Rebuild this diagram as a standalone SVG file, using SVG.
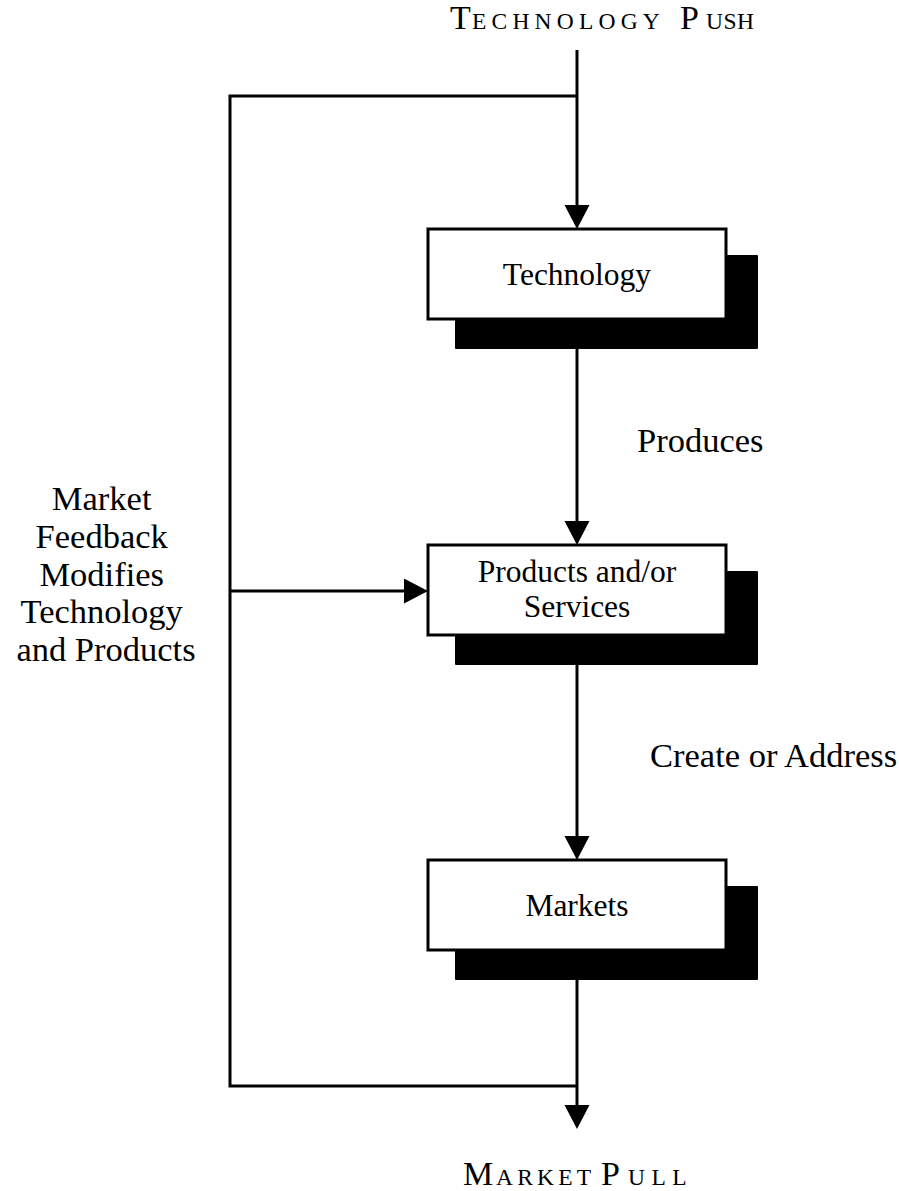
<svg xmlns="http://www.w3.org/2000/svg" width="899" height="1191" viewBox="0 0 899 1191">
  <style>
    .bg { fill: #ffffff; }
    .box { fill: #ffffff; stroke: #000000; stroke-width: 3; }
    .shadow { fill: #000000; stroke: #000000; stroke-width: 2; stroke-linejoin: round; }
    .wire { fill: none; stroke: #000000; stroke-width: 3; }
    .arrow { fill: none; stroke: #000000; stroke-width: 3; marker-end: url(#head); }
    text { font-family: "Liberation Serif", "Times New Roman", serif; fill: #000000; }
    .inbox { font-size: 31.5px; text-anchor: middle; }
    .label { font-size: 34.5px; }
    .side { font-size: 34.5px; text-anchor: middle; }
    .cap { font-size: 34px; }
    .sc { font-size: 23.5px; }
  </style>
  <defs>
    <marker id="head" markerUnits="userSpaceOnUse" markerWidth="26" markerHeight="26" refX="16" refY="12.5" orient="auto">
      <path d="M0,0 L24,12.5 L0,25 Z" fill="#000000"/>
    </marker>
  </defs>

  <rect class="bg" x="0" y="0" width="899" height="1191"/>

  <!-- top and bottom captions, set in small caps -->
  <g id="caption-push">
    <text y="29"><tspan class="cap" x="450">T</tspan><tspan class="sc" x="472" letter-spacing="5.2">ECHNOLOGY</tspan><tspan class="cap" x="680">P</tspan><tspan class="sc" x="706" letter-spacing="0.5">USH</tspan></text>
  </g>
  <g id="caption-pull">
    <text y="1185"><tspan class="cap" x="463">M</tspan><tspan class="sc" x="496" letter-spacing="4.2">ARKET</tspan><tspan class="cap" x="601">P</tspan><tspan class="sc" x="628" letter-spacing="6.5">ULL</tspan></text>
  </g>

  <!-- connectors -->
  <g id="connectors">
    <path class="arrow" d="M577,50 V221"/>
    <path class="wire" d="M577,96 H230 V1086 H577"/>
    <path class="arrow" d="M230,591 H420"/>
    <path class="arrow" d="M577,349 V537"/>
    <path class="arrow" d="M577,664 V852"/>
    <path class="arrow" d="M577,978 V1121"/>
  </g>

  <!-- edge labels -->
  <g id="label-produces">
    <text class="label" x="637" y="452">Produces</text>
  </g>
  <g id="label-create">
    <text class="label" x="650" y="767">Create or Address</text>
  </g>
  <g id="label-feedback">
    <text class="side">
      <tspan x="106" y="510">Market</tspan>
      <tspan x="106" y="548">Feedback</tspan>
      <tspan x="106" y="586">Modifies</tspan>
      <tspan x="106" y="623">Technology</tspan>
      <tspan x="106" y="661">and Products</tspan>
    </text>
  </g>

  <!-- nodes: shadow block, then white box on top -->
  <g id="node-technology">
    <rect class="shadow" x="456" y="256" width="301" height="92"/>
    <rect class="box" x="428" y="229" width="298" height="90"/>
    <text class="inbox" x="577" y="285">Technology</text>
  </g>
  <g id="node-products">
    <rect class="shadow" x="456" y="572" width="301" height="92"/>
    <rect class="box" x="428" y="545" width="298" height="90"/>
    <text class="inbox" x="577" y="582">Products and/or</text>
    <text class="inbox" x="577" y="617">Services</text>
  </g>
  <g id="node-markets">
    <rect class="shadow" x="456" y="887" width="301" height="92"/>
    <rect class="box" x="428" y="860" width="298" height="90"/>
    <text class="inbox" x="577" y="916">Markets</text>
  </g>
</svg>
